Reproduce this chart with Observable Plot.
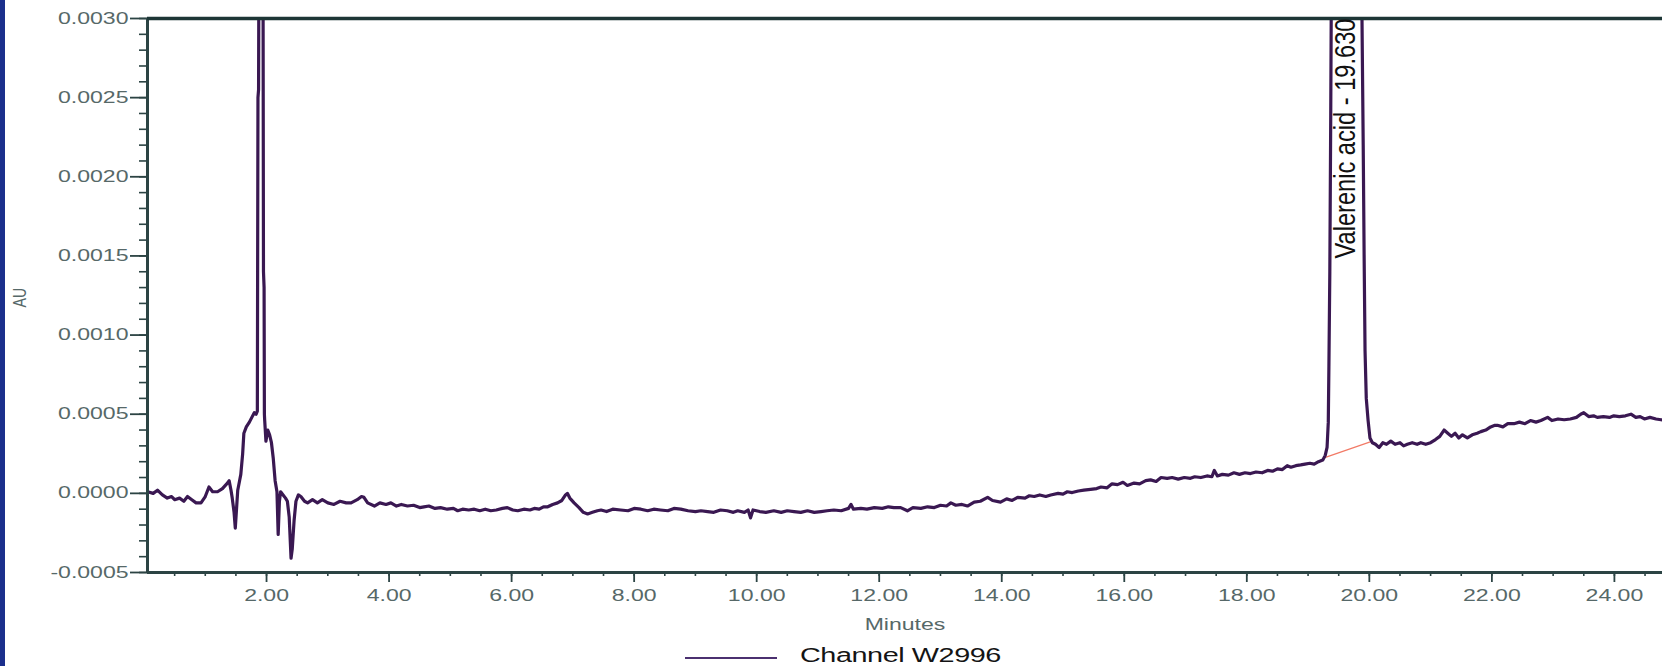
<!DOCTYPE html>
<html><head><meta charset="utf-8">
<script src="https://cdn.jsdelivr.net/npm/d3@7"></script>
<script src="https://cdn.jsdelivr.net/npm/@observablehq/plot@0.6"></script>
<style>
html,body{margin:0;padding:0;background:#fff}
body{width:1662px;height:666px;overflow:hidden;position:relative;font-family:"Liberation Sans",Arial,sans-serif}
#chart{position:absolute;left:0;top:0}
#edge{position:absolute;left:0;top:0;width:5px;height:666px;background:#1b2f8c}
#legend{position:absolute;left:0;top:640px;width:1662px;height:26px}
#legend .swatch{position:absolute;left:685px;top:17px;width:92px;height:2px;background:#4b3070}
#legend .lab{position:absolute;left:800px;top:4px;font-size:20px;color:#141414;white-space:nowrap;transform:scaleX(1.44);transform-origin:0 50%;letter-spacing:-0.3px}
</style></head><body>
<div id="chart"></div>
<div id="legend"><div class="swatch"></div><div class="lab">Channel W2996</div></div>
<div id="edge"></div>
<script>
// Retention time (minutes) and absorbance (in units of 1e-4 AU)
const minutes = [
0.06,0.15,0.22,0.30,0.38,0.45,0.50,0.58,0.65,0.71,0.78,0.85,0.93,1.00,1.06,1.12,1.20,1.28,1.35,1.39,
1.42,1.44,1.47,1.49,1.51,1.53,1.56,1.58,1.61,1.63,1.67,1.72,1.76,1.80,1.83,1.85,1.86,1.87,1.88,1.94,
1.95,1.96,1.965,1.97,1.99,2.02,2.05,2.08,2.11,2.14,2.17,2.19,2.21,2.23,2.27,2.31,2.34,2.37,2.40,2.42,
2.45,2.48,2.52,2.56,2.62,2.67,2.75,2.83,2.91,3.00,3.10,3.20,3.30,3.38,3.48,3.55,3.59,3.65,3.76,3.85,
3.95,4.03,4.12,4.20,4.30,4.40,4.50,4.57,4.65,4.75,4.84,4.95,5.05,5.12,5.20,5.30,5.39,5.48,5.57,5.66,
5.75,5.85,5.93,6.02,6.10,6.20,6.30,6.37,6.45,6.52,6.59,6.67,6.75,6.82,6.88,6.91,6.95,7.02,7.10,7.17,
7.24,7.32,7.40,7.46,7.55,7.65,7.78,7.90,8.00,8.11,8.22,8.32,8.43,8.55,8.65,8.76,8.88,9.00,9.09,9.20,
9.30,9.41,9.52,9.62,9.69,9.80,9.86,9.90,9.94,10.05,10.15,10.28,10.40,10.50,10.61,10.72,10.83,10.94,11.05,11.15,
11.26,11.38,11.50,11.54,11.58,11.70,11.80,11.92,12.05,12.15,12.24,12.35,12.46,12.55,12.68,12.79,12.90,13.00,13.10,13.17,
13.25,13.35,13.44,13.55,13.65,13.77,13.85,13.98,14.08,14.17,14.26,14.38,14.45,14.53,14.62,14.72,14.80,14.92,15.00,15.07,
15.15,15.25,15.34,15.45,15.55,15.62,15.72,15.80,15.89,15.98,16.05,16.16,16.25,16.35,16.43,16.52,16.60,16.70,16.78,16.88,
16.98,17.08,17.15,17.25,17.35,17.43,17.47,17.52,17.60,17.70,17.79,17.88,17.97,18.06,18.15,18.25,18.34,18.42,18.50,18.58,
18.66,18.72,18.80,18.88,18.95,19.03,19.10,19.17,19.24,19.28,19.31,19.33,19.34,19.355,19.37,19.38,19.42,19.50,19.63,19.75,
19.84,19.88,19.90,19.915,19.93,19.95,19.98,20.01,20.05,20.10,20.16,20.22,20.28,20.35,20.42,20.50,20.56,20.62,20.70,20.78,
20.84,20.92,21.00,21.08,21.15,21.22,21.28,21.34,21.40,21.46,21.52,21.60,21.68,21.76,21.82,21.90,21.98,22.05,22.09,22.18,
22.26,22.36,22.45,22.54,22.63,22.72,22.80,22.91,22.98,23.08,23.18,23.28,23.38,23.45,23.50,23.58,23.66,23.72,23.82,23.92,
23.99,24.08,24.18,24.27,24.35,24.42,24.49,24.58,24.68,24.76,24.85
];
const absorbanceE4 = [
0.1,0.0,0.2,-0.1,-0.3,-0.2,-0.4,-0.3,-0.5,-0.2,-0.4,-0.6,-0.6,-0.2,0.4,0.1,0.1,0.3,0.6,0.8,
0.2,-0.3,-1.2,-2.2,-1.0,0.2,0.8,1.2,2.5,3.8,4.2,4.5,4.8,5.1,5.0,5.2,25,25.5,40,40,
14,13,5.0,4.6,3.3,4.0,3.7,3.2,2.2,0.8,0.1,-2.6,-0.5,0.1,-0.1,-0.3,-0.5,-1.5,-4.1,-3.5,
-1.7,-0.5,-0.1,-0.2,-0.5,-0.6,-0.4,-0.6,-0.4,-0.6,-0.7,-0.5,-0.6,-0.6,-0.4,-0.2,-0.25,-0.6,-0.8,-0.6,
-0.7,-0.6,-0.8,-0.7,-0.8,-0.75,-0.9,-0.85,-0.8,-0.95,-0.9,-1.0,-0.95,-1.1,-1.0,-1.05,-1.0,-1.1,-1.0,-1.1,
-1.05,-0.95,-0.9,-1.05,-1.1,-1.0,-1.05,-0.95,-1.0,-0.85,-0.85,-0.7,-0.6,-0.45,-0.1,0.0,-0.3,-0.6,-0.9,-1.2,
-1.3,-1.2,-1.1,-1.05,-1.15,-1.0,-1.05,-1.1,-0.95,-1.0,-1.1,-1.0,-1.05,-1.1,-0.95,-1.0,-1.1,-1.15,-1.1,-1.15,
-1.2,-1.05,-1.1,-1.2,-1.1,-1.2,-1.05,-1.55,-1.05,-1.15,-1.2,-1.1,-1.2,-1.1,-1.15,-1.2,-1.1,-1.2,-1.15,-1.1,
-1.05,-1.1,-0.95,-0.7,-1.0,-0.95,-1.0,-0.9,-0.95,-0.85,-0.9,-0.9,-1.1,-0.9,-0.95,-0.85,-0.9,-0.75,-0.8,-0.6,
-0.75,-0.7,-0.8,-0.55,-0.5,-0.25,-0.45,-0.55,-0.35,-0.45,-0.25,-0.3,-0.15,-0.2,-0.1,-0.2,-0.1,0.0,-0.05,0.1,
0.05,0.15,0.2,0.25,0.3,0.4,0.35,0.6,0.55,0.7,0.5,0.65,0.6,0.8,0.85,0.75,1.0,0.95,1.0,0.9,
1.0,0.95,1.05,1.0,1.1,1.05,1.45,1.1,1.2,1.15,1.3,1.2,1.3,1.25,1.35,1.3,1.45,1.4,1.55,1.5,
1.75,1.65,1.75,1.8,1.85,1.9,1.85,2.0,2.1,2.4,2.9,4.5,8,14,24,32,60,110,140,110,
40,30,22,15,9,6.0,4.6,3.5,3.2,3.1,2.9,3.2,3.1,3.3,3.1,3.2,3.0,3.1,3.2,3.1,
3.2,3.1,3.2,3.4,3.6,4.0,3.8,3.6,3.8,3.5,3.7,3.5,3.7,3.8,3.9,4.0,4.2,4.3,4.3,4.2,
4.4,4.4,4.5,4.4,4.6,4.5,4.6,4.8,4.6,4.7,4.65,4.7,4.8,5.0,5.1,4.85,4.9,4.8,4.85,4.8,
4.9,4.85,4.9,5.0,4.8,4.85,4.7,4.8,4.7,4.65,4.6
];
// Integration baseline drawn under the Valerenic acid peak (minutes, 1e-4 AU)
const baselineMinutes = [19.26, 20.05];
const baselineE4 = [2.24, 3.30];
const peakLabel = [{t: 19.63, text: "Valerenic acid - 19.630"}];
const yTicks = [-0.0005, 0, 0.0005, 0.0010, 0.0015, 0.0020, 0.0025, 0.0030];
const xTicks = [2, 4, 6, 8, 10, 12, 14, 16, 18, 20, 22, 24];
const yMinor = d3.range(-5, 31).map(i => i / 10000);
const xMinor = d3.range(1, 50).map(i => i / 2);

const trace = minutes.map((t, i) => ({t, au: absorbanceE4[i] * 1e-4}));
const base = baselineMinutes.map((t, i) => ({t, au: baselineE4[i] * 1e-4}));

const axisColor = "#2c4444";
const labelColor = "#566868";
const x0 = 0.057, x1 = 24.785;

const plot = Plot.plot({
  width: 1662, height: 640,
  marginLeft: 147, marginRight: 0, marginTop: 18, marginBottom: 68,
  style: {fontFamily: "'Liberation Sans', Arial, sans-serif", background: "transparent", overflow: "visible"},
  x: {domain: [x0, x1], axis: null},
  y: {domain: [-0.0005, 0.003], axis: null},
  marks: [
    Plot.axisY(yMinor, {tickSize: 8, tickFormat: () => "", stroke: axisColor, strokeWidth: 1.6, label: null}),
    Plot.axisY(yTicks, {tickSize: 17, tickPadding: 2, tickFormat: d => d.toFixed(4), stroke: axisColor, strokeWidth: 1.8, fill: labelColor, fontSize: 16, label: null}),
    Plot.axisX(xMinor, {tickSize: 4, tickFormat: () => "", stroke: axisColor, strokeWidth: 1.6, label: null}),
    Plot.axisX(xTicks, {tickSize: 10, tickPadding: 7, tickFormat: d => d.toFixed(2), stroke: axisColor, strokeWidth: 1.8, fill: labelColor, fontSize: 16, label: null}),
    Plot.line(base, {x: "t", y: "au", stroke: "#f27a66", strokeWidth: 1.2}),
    Plot.line(trace, {x: "t", y: "au", stroke: "#3a1852", strokeWidth: 3.2, strokeLinejoin: "round", clip: true}),
    Plot.ruleX([x0], {stroke: axisColor, strokeWidth: 3}),
    Plot.ruleY([-0.0005], {stroke: axisColor, strokeWidth: 3}),
    Plot.ruleY([0.003], {stroke: "#1d3636", strokeWidth: 3.4}),
    Plot.text(peakLabel, {x: "t", y: () => 0.003, text: "text", rotate: -90, textAnchor: "end", lineAnchor: "middle", fontSize: 29, fill: "#111", dx: -1}),
    Plot.text(["AU"], {frameAnchor: "left", dx: -128, dy: 12, rotate: -90, text: d => d, fontSize: 19, fill: labelColor}),
    Plot.text(["Minutes"], {frameAnchor: "bottom", dy: 57, text: d => d, fontSize: 16, fill: labelColor})
  ]
});

document.getElementById("chart").appendChild(plot);
// The source chromatogram's lettering is stretched: adjust each text's drawn length.
plot.querySelectorAll("text").forEach(el => {
  const s = el.textContent;
  if (!s) return;
  const L = el.getComputedTextLength();
  let f = 1.44;
  if (s === "AU") f = 1 / 1.35;
  else if (s.startsWith("Valerenic")) f = 240 / L;
  el.setAttribute("textLength", (L * f).toFixed(1));
  el.setAttribute("lengthAdjust", "spacingAndGlyphs");
});
</script>
</body></html>
